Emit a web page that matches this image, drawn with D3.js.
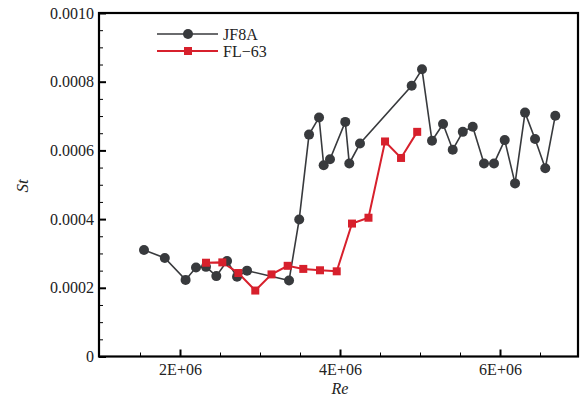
<!DOCTYPE html>
<html><head><meta charset="utf-8">
<script src="https://cdn.jsdelivr.net/npm/d3@7"></script>
<style>body{margin:0;background:#fff}svg{display:block}</style>
</head><body>
<svg id="chart" width="584" height="396"></svg>
<script>
const seriesNames = ["JF8A", "FL\u221263"];
const jfRe = [1.55e6,1.81e6,2.07e6,2.2e6,2.325e6,2.454e6,2.588e6,2.713e6,2.838e6,3.363e6,3.49e6,3.613e6,3.738e6,3.796e6,3.875e6,4.066e6,4.116e6,4.25e6,4.896e6,5.025e6,5.15e6,5.288e6,5.409e6,5.535e6,5.659e6,5.8e6,5.925e6,6.059e6,6.188e6,6.313e6,6.438e6,6.566e6,6.691e6];
const jfSt = [0.000310,0.000287,0.000223,0.000259,0.000261,0.000234,0.000278,0.000232,0.000250,0.000221,0.000399,0.000646,0.000696,0.000557,0.000574,0.000683,0.000562,0.000620,0.000788,0.000836,0.000628,0.000677,0.000602,0.000654,0.000669,0.000562,0.000562,0.000630,0.000504,0.000710,0.000633,0.000548,0.000701];
const flRe = [2.325e6,2.529e6,2.729e6,2.941e6,3.144e6,3.346e6,3.541e6,3.75e6,3.959e6,4.15e6,4.356e6,4.563e6,4.763e6,4.965e6];
const flSt = [0.000273,0.000274,0.000243,0.000192,0.000239,0.000264,0.000255,0.000251,0.000248,0.000387,0.000404,0.000626,0.000578,0.000654];
const xTicks = [2e6,4e6,6e6];
const xTickLabels = ["2E+06","4E+06","6E+06"];
const yTicks = [0,0.0002,0.0004,0.0006,0.0008,0.0010];
const yTickLabels = ["0","0.0002","0.0004","0.0006","0.0008","0.0010"];

const svg = d3.select("#chart");
const L = 99, R = 578, T = 13, B = 356.5;
const x = d3.scaleLinear().domain([1e6, 7e6]).range([L+1, 580]);
const y = d3.scaleLinear().domain([0, 0.001]).range([B, T]);
const font = "'Liberation Serif','Times New Roman',serif";

// minor ticks
const xMinor = d3.range(1.5e6, 7e6, 0.5e6).filter(v => !xTicks.includes(v));
const yMinor = d3.range(0, 0.001, 0.00005).filter((v,i) => i % 4 !== 0);

const xAxis = d3.axisBottom(x).tickValues(xTicks).tickFormat((d,i)=>xTickLabels[i]).tickSizeInner(-7).tickSizeOuter(0).tickPadding(5);
const gx = svg.append("g").attr("transform",`translate(0,${B})`).call(xAxis);
gx.select(".domain").remove();
gx.selectAll(".tick line").attr("stroke","#000").attr("stroke-width",2);
gx.selectAll("text").attr("y",7).attr("font-family",font).attr("font-size",16).attr("fill","#222");
const gxm = svg.append("g").attr("transform",`translate(0,${B})`).call(d3.axisBottom(x).tickValues(xMinor).tickSizeInner(-4).tickSizeOuter(0).tickFormat(""));
gxm.select(".domain").remove();
gxm.selectAll(".tick line").attr("stroke","#000").attr("stroke-width",1);

const yAxis = d3.axisLeft(y).tickValues(yTicks).tickFormat((d,i)=>yTickLabels[i]).tickSizeInner(-7).tickSizeOuter(0).tickPadding(5);
const gy = svg.append("g").attr("transform",`translate(${L},0)`).call(yAxis);
gy.select(".domain").remove();
gy.selectAll(".tick line").attr("stroke","#000").attr("stroke-width",2);
gy.selectAll("text").attr("x",-5).attr("font-family",font).attr("font-size",16).attr("fill","#222");
const gym = svg.append("g").attr("transform",`translate(${L},0)`).call(d3.axisLeft(y).tickValues(yMinor).tickSizeInner(-4).tickSizeOuter(0).tickFormat(""));
gym.select(".domain").remove();
gym.selectAll(".tick line").attr("stroke","#000").attr("stroke-width",1);

// frame
svg.append("rect").attr("x",L).attr("y",T).attr("width",R-L).attr("height",B-T)
  .attr("fill","none").attr("stroke","#000").attr("stroke-width",2.2);

// axis titles
svg.append("text").attr("x",340).attr("y",394).attr("text-anchor","middle")
  .attr("font-family",font).attr("font-style","italic").attr("font-size",16).attr("fill","#222").text("Re");
svg.append("text").attr("transform","translate(28,186) rotate(-90)").attr("text-anchor","middle")
  .attr("font-family",font).attr("font-style","italic").attr("font-size",17).attr("fill","#222").text("St");

const black = "#383a3d", red = "#d7202c";
const line = d3.line().x(d=>x(d[0])).y(d=>y(d[1]));
const jf = jfRe.map((v,i)=>[v,jfSt[i]]);
const fl = flRe.map((v,i)=>[v,flSt[i]]);

svg.append("path").datum(jf).attr("d",line).attr("fill","none").attr("stroke",black).attr("stroke-width",1.6);
svg.append("path").datum(fl).attr("d",line).attr("fill","none").attr("stroke",red).attr("stroke-width",2);

svg.selectAll("circle.jf").data(jf).enter().append("circle").attr("class","jf")
  .attr("cx",d=>x(d[0])).attr("cy",d=>y(d[1])).attr("r",5).attr("fill",black);
svg.selectAll("rect.fl").data(fl).enter().append("rect").attr("class","fl")
  .attr("x",d=>x(d[0])-4).attr("y",d=>y(d[1])-4).attr("width",8).attr("height",8).attr("fill",red);

// legend
const lg = svg.append("g");
[[black,34,"c"],[red,51,"s"]].forEach((s,i)=>{
  lg.append("line").attr("x1",157).attr("x2",218).attr("y1",s[1]).attr("y2",s[1]).attr("stroke",s[0]).attr("stroke-width",i?2:1.6);
  if (s[2]==="c") lg.append("circle").attr("cx",188).attr("cy",s[1]).attr("r",5).attr("fill",s[0]);
  else lg.append("rect").attr("x",184).attr("y",s[1]-4).attr("width",8).attr("height",8).attr("fill",s[0]);
  lg.append("text").attr("x",223).attr("y",s[1]+5.5).attr("font-family",font).attr("font-size",16).attr("fill","#222").text(seriesNames[i]);
});
</script>
</body></html>
